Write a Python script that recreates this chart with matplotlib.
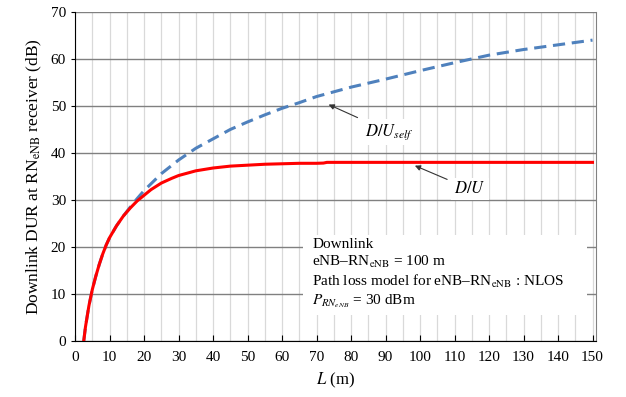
import matplotlib
matplotlib.use("Agg")
import matplotlib.pyplot as plt
import matplotlib.patches as mpatches
from matplotlib.ticker import MultipleLocator

plt.rcParams["font.family"] = ["Liberation Serif", "DejaVu Serif"]
plt.rcParams["mathtext.fontset"] = "stix"

# D/U (red solid)
L_du = [2.5, 3, 4, 5, 6, 7, 8, 9, 10, 12, 14, 16, 18, 20, 22, 25, 28, 30, 35, 40,
        45, 50, 55, 60, 65, 70, 72, 73, 80, 90, 100, 110, 120, 130, 140, 150]
du = [0, 3, 7.5, 11, 13.8, 16.3, 18.5, 20.4, 22, 24.5, 26.6, 28.3, 29.8, 31, 32.2,
      33.6, 34.6, 35.2, 36.2, 36.8, 37.2, 37.4, 37.6, 37.7, 37.8, 37.8, 37.85, 38,
      38, 38, 38, 38, 38, 38, 38, 38]

# D/U_self (blue dashed)
L_self = [2.5, 3, 4, 5, 6, 7, 8, 9, 10, 12, 14, 16, 18, 20, 25, 30, 35, 40, 45,
          50, 55, 60, 65, 70, 80, 90, 100, 110, 120, 130, 140, 150]
du_self = [0, 3, 7.5, 11, 13.8, 16.3, 18.5, 20.4, 22, 24.5, 26.6, 28.5, 30.3,
           32, 35.6, 38.5, 41, 43, 45, 46.6, 48.1, 49.5, 50.7, 52, 54, 55.7,
           57.5, 59.2, 60.8, 62, 63, 64]

fig = plt.figure(figsize=(6.26, 3.97), dpi=100)
ax = fig.add_axes([0.12, 0.141, 0.832, 0.829])

ax.plot(L_self, du_self, color="#4F81BD", lw=2.2, ls=(0, (4, 2.2)), zorder=3)
ax.plot(L_du, du, color="#FF0000", lw=2.2, zorder=4)

ax.set_xlim(0, 151)
ax.set_ylim(0, 70)
ax.xaxis.set_major_locator(MultipleLocator(10))
ax.xaxis.set_minor_locator(MultipleLocator(5))
ax.yaxis.set_major_locator(MultipleLocator(10))
ax.grid(which="minor", axis="x", color="#D9D9D9", lw=0.9)
ax.grid(which="major", axis="x", color="#D9D9D9", lw=0.9)
ax.grid(which="major", axis="y", color="#808080", lw=1.0)
ax.set_axisbelow(True)
ax.tick_params(axis="x", which="major", direction="in", length=4, labelsize=11, pad=7)
ax.tick_params(axis="x", which="minor", length=0)
ax.tick_params(axis="y", direction="out", length=3, labelsize=11)

ax.spines["top"].set_visible(False)
ax.spines["right"].set_color("#808080")
ax.spines["left"].set_color("black")
ax.spines["bottom"].set_color("black")

ax.set_xlabel("$L$ (m)", fontsize=12, labelpad=5)
ax.set_ylabel(r"Downlink DUR at RN$_{\mathrm{eNB}}$ receiver (dB)", fontsize=12.5, labelpad=5)

ax.annotate(r"$D/U_{self}$", xy=(73.5, 50.3), xytext=(91, 44.5), fontsize=12,
            ha="center", va="center",
            bbox=dict(boxstyle="square,pad=0.2", fc="white", ec="none"),
            arrowprops=dict(arrowstyle="-|>", color="#333333", lw=0.8,
                            mutation_scale=8, shrinkA=3, shrinkB=0))
ax.annotate(r"$D/U$", xy=(98.5, 37.3), xytext=(114.5, 32.3), fontsize=12,
            ha="center", va="center",
            bbox=dict(boxstyle="square,pad=0.2", fc="white", ec="none"),
            arrowprops=dict(arrowstyle="-|>", color="#333333", lw=0.8,
                            mutation_scale=8, shrinkA=3, shrinkB=0))

# white panel behind the info text
ax.add_patch(mpatches.Rectangle((66.1, 5.5), 82.4, 17.0, fc="white", ec="none", zorder=2))
info = ("Downlink\n"
        r"eNB–RN$_{\mathrm{eNB}}$ = 100 m" "\n"
        r"Path loss model for eNB–RN$_{\mathrm{eNB}}$ : NLOS" "\n"
        r"$P_{RN_{eNB}}$ = 30 dBm")
ax.text(68.8, 21.9, info, fontsize=11, ha="left", va="top", linespacing=1.22, zorder=5)

fig.savefig("out.png", dpi=100)
